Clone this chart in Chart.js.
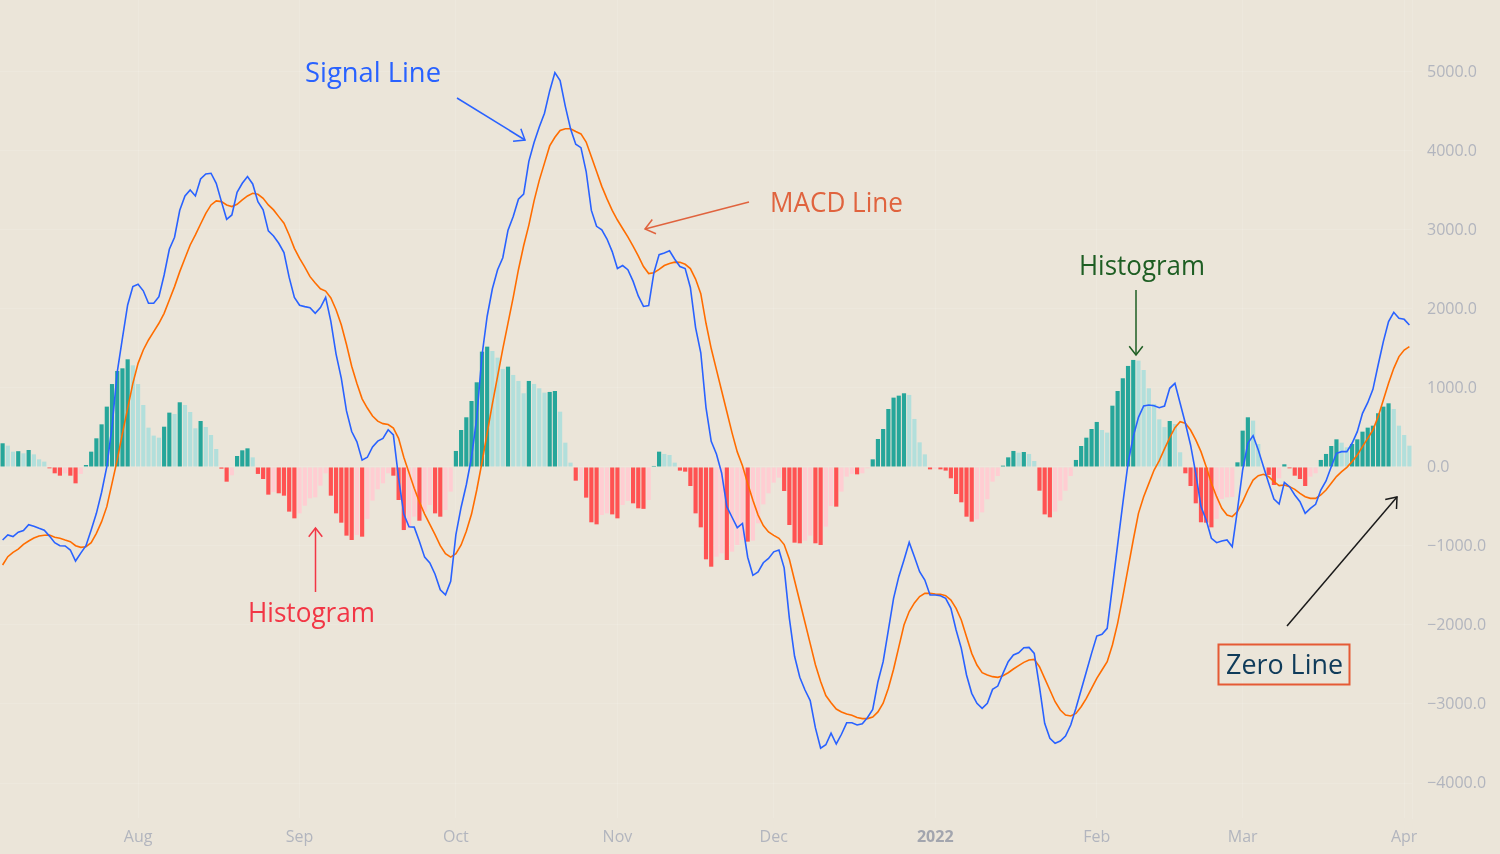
<!DOCTYPE html>
<html>
<head>
<meta charset="utf-8">
<script src="https://cdn.jsdelivr.net/npm/chart.js@4.4.1/dist/chart.umd.min.js"></script>
<style>
  html, body { margin: 0; padding: 0; background: #ebe5d9; overflow: hidden; }
  #wrap { position: relative; width: 1500px; height: 854px; }
  #c { position: absolute; left: 0; top: 0; }
  #ann { position: absolute; left: 0; top: 0; pointer-events: none; }
  #ann text { font-family: "Open Sans", sans-serif; font-size: 27px; }
</style>
</head>
<body>
<div id="wrap">
  <canvas id="c" width="1500" height="854"></canvas>
  <svg id="ann" width="1500" height="854" xmlns="http://www.w3.org/2000/svg">
    <text x="305" y="82" fill="#2962ff" textLength="136" lengthAdjust="spacingAndGlyphs">Signal Line</text>
    <text x="770" y="212" fill="#e0633e" textLength="133" lengthAdjust="spacingAndGlyphs">MACD Line</text>
    <text x="1079" y="275" fill="#1e5e23" textLength="126" lengthAdjust="spacingAndGlyphs">Histogram</text>
    <text x="248" y="622" fill="#f23645" textLength="127" lengthAdjust="spacingAndGlyphs">Histogram</text>
    <rect x="1218.5" y="644.5" width="131" height="40" fill="none" stroke="#e55a35" stroke-width="2"/>
    <text x="1226" y="674" fill="#0f3b5a" textLength="117" lengthAdjust="spacingAndGlyphs">Zero Line</text>
  </svg>
</div>
<script>
// ---- data (daily, starting 2021-07-06) ----
const startDate = '2021-07-06';

const histogram = [
  300, 270, 194, 200, 173, 215, 160, 97, 68, -17,
  -80, -110, -80, -110, -207, -88, 25, 194, 363, 540,
  764, 1050, 1215, 1249, 1363, 1287, 1050, 785, 498, 397,
  371, 510, 688, 671, 819, 785, 696, 490, 582, 506,
  405, 228, -21, -186, -105, 139, 211, 236, 122, -88,
  -152, -350, -316, -333, -363, -565, -650, -587, -490, -397,
  -384, -236, -80, -363, -587, -705, -869, -924, -861, -882,
  -658, -426, -283, -207, -80, -110, -418, -798, -776, -629,
  -680, -565, -481, -587, -629, -544, -312, 203, 468, 629,
  835, 1072, 1460, 1523, 1468, 1384, 1241, 1270, 1165, 1089,
  933, 1089, 1051, 996, 941, 950, 962, 700, 308, 55,
  -173, -165, -388, -700, -726, -608, -587, -600, -650, -481,
  -430, -460, -523, -530, -418, 13, 194, 165, 152, 55,
  -46, -59, -241, -587, -764, -1169, -1262, -1135, -1093, -1177,
  -1072, -987, -924, -945, -933, -713, -473, -333, -198, -135,
  -304, -734, -958, -966, -933, -869, -966, -987, -755, -494,
  -502, -312, -122, -88, -93, -80, -17, 97, 354, 481,
  734, 878, 903, 933, 912, 608, 312, 160, -30, -21,
  -30, -46, -143, -342, -447, -629, -692, -663, -574, -409,
  -186, -114, 17, 122, 203, 181, 190, 165, 76, -300,
  -600, -637, -565, -426, -300, -114, 89, 266, 371, 481,
  570, 468, 435, 776, 962, 1123, 1279, 1355, 1346, 1228,
  996, 798, 603, 505, 582, 544, 186, -80, -241, -460,
  -700, -705, -764, -658, -405, -384, -380, 59, 460, 629,
  587, 291, 3, -101, -228, -143, 34, -17, -110, -152,
  -241, -122, -80, 89, 165, 266, 350, 308, 249, 291,
  350, 447, 498, 523, 680, 764, 806, 734, 523, 405,
  270
];

const blueLine = [
  -924, -860, -880, -825, -805, -730, -750, -776, -800, -875,
  -958, -996, -1000, -1051, -1190, -1090, -996, -798, -587, -320,
  4, 510, 1200, 1630, 2051, 2283, 2313, 2230, 2072, 2072,
  2156, 2430, 2756, 2908, 3250, 3430, 3507, 3431, 3646, 3709,
  3718, 3591, 3359, 3135, 3190, 3477, 3591, 3676, 3583, 3359,
  3254, 2988, 2924, 2832, 2713, 2400, 2147, 2047, 2030, 2017,
  1944, 2017, 2147, 1843, 1429, 1124, 710, 449, 319, 87,
  123, 253, 327, 362, 471, 405, -139, -596, -757, -761,
  -944, -1141, -1214, -1358, -1554, -1619, -1446, -857, -509, -225,
  123, 623, 1408, 1908, 2256, 2497, 2649, 2997, 3171, 3389,
  3454, 3868, 4107, 4303, 4478, 4760, 4992, 4892, 4565, 4282,
  4085, 4042, 3740, 3248, 3046, 3003, 2885, 2726, 2512, 2550,
  2497, 2352, 2165, 2032, 2043, 2459, 2688, 2709, 2736, 2629,
  2538, 2512, 2272, 1765, 1446, 752, 325, 165, -76, -503,
  -636, -768, -715, -1142, -1371, -1329, -1212, -1158, -1074, -1052,
  -1276, -1915, -2396, -2662, -2823, -2956, -3303, -3559, -3516, -3368,
  -3506, -3383, -3238, -3238, -3266, -3250, -3170, -3068, -2718, -2464,
  -2064, -1663, -1388, -1177, -954, -1135, -1325, -1431, -1620, -1620,
  -1629, -1663, -1789, -2064, -2296, -2633, -2865, -2992, -3055, -2992,
  -2815, -2773, -2612, -2464, -2380, -2351, -2287, -2283, -2359, -2781,
  -3245, -3435, -3498, -3469, -3406, -3266, -3055, -2823, -2591, -2359,
  -2140, -2118, -2042, -1515, -987, -460, 46, 384, 629, 772,
  785, 776, 751, 772, 996, 1059, 806, 553, 279, -80,
  -502, -671, -903, -958, -937, -924, -1009, -544, -38, 300,
  397, 215, 4, -207, -405, -468, -194, -249, -354, -439,
  -587, -523, -473, -291, -177, 4, 173, 194, 194, 300,
  447, 679, 814, 983, 1291, 1587, 1840, 1958, 1882, 1869,
  1798
];

const orangeLine = [
  -1241, -1135, -1080, -1040, -980, -937, -900, -874, -865, -861,
  -890, -903, -925, -945, -996, -1017, -1009, -958, -840, -692,
  -502, -207, 89, 426, 743, 1059, 1312, 1481, 1608, 1713,
  1819, 1945, 2114, 2283, 2473, 2642, 2810, 2937, 3076, 3211,
  3317, 3368, 3359, 3317, 3296, 3325, 3380, 3431, 3465, 3452,
  3401, 3317, 3254, 3169, 3085, 2937, 2768, 2640, 2530, 2409,
  2330, 2256, 2226, 2140, 1990, 1800, 1550, 1276, 1058, 863,
  746, 646, 580, 549, 537, 492, 362, 123, -73, -270,
  -443, -596, -727, -857, -996, -1096, -1141, -1096, -987, -814,
  -596, -291, 57, 428, 798, 1146, 1494, 1820, 2147, 2497,
  2800, 3062, 3368, 3628, 3846, 4064, 4173, 4260, 4282, 4282,
  4246, 4216, 4113, 3926, 3740, 3552, 3393, 3248, 3126, 3019,
  2912, 2795, 2673, 2538, 2448, 2459, 2502, 2550, 2576, 2593,
  2590, 2566, 2512, 2379, 2193, 1819, 1499, 1232, 965, 699,
  432, 191, 15, -209, -422, -609, -742, -822, -865, -903,
  -982, -1169, -1436, -1703, -1969, -2236, -2503, -2716, -2893, -2983,
  -3064, -3101, -3127, -3143, -3170, -3185, -3185, -3165, -3100, -2990,
  -2800, -2560, -2280, -2000, -1830, -1720, -1640, -1600, -1599, -1608,
  -1612, -1629, -1684, -1789, -1937, -2148, -2359, -2507, -2604, -2633,
  -2654, -2663, -2642, -2604, -2557, -2515, -2473, -2443, -2435, -2528,
  -2675, -2823, -2971, -3076, -3140, -3152, -3119, -3034, -2929, -2802,
  -2675, -2570, -2464, -2253, -1979, -1642, -1283, -924, -587, -376,
  -207, -38, 80, 230, 370, 498, 574, 553, 468, 342,
  194, 4, -207, -376, -523, -608, -629, -565, -439, -291,
  -165, -110, -93, -122, -186, -236, -228, -249, -283, -333,
  -376, -397, -397, -354, -291, -207, -122, -59, -4, 68,
  152, 257, 363, 468, 637, 848, 1059, 1249, 1397, 1481,
  1523
];

const yTickValues = [-4000, -3000, -2000, -1000, 0, 1000, 2000, 3000, 4000, 5000];
const monthNames = ['Jan','Feb','Mar','Apr','May','Jun','Jul','Aug','Sep','Oct','Nov','Dec'];

// ---- categories: one date per bar ----
const categories = [];
{
  const d0 = new Date(startDate + 'T00:00:00Z');
  for (let i = 0; i < histogram.length; i++) {
    const d = new Date(d0.getTime() + i * 86400000);
    categories.push(d.toISOString().slice(0, 10));
  }
}
function tickText(dateStr) {
  const d = new Date(dateStr + 'T00:00:00Z');
  if (d.getUTCDate() !== 1) return null;
  if (d.getUTCMonth() === 0) return String(d.getUTCFullYear());
  return monthNames[d.getUTCMonth()];
}

// TradingView style histogram colouring
const C_UP_STRONG = '#26a69a', C_UP_WEAK = '#b2dfdb', C_DN_STRONG = '#ff5252', C_DN_WEAK = '#ffcdd2';
const barColors = histogram.map((v, i) => {
  const prev = i > 0 ? histogram[i - 1] : -Infinity;
  if (v >= 0) return prev < v ? C_UP_STRONG : C_UP_WEAK;
  return prev < v ? C_DN_WEAK : C_DN_STRONG;
});

const gridColor = 'rgba(255,255,255,0.12)';
const tickColor = '#b2b5be';
const fontFamily = '"Open Sans", sans-serif';

new Chart(document.getElementById('c'), {
  type: 'bar',
  data: {
    labels: categories,
    datasets: [
      { type: 'line', data: blueLine, borderColor: '#2962ff', borderWidth: 1.6, pointRadius: 0, tension: 0, order: 1 },
      { type: 'line', data: orangeLine, borderColor: '#ff6d00', borderWidth: 1.6, pointRadius: 0, tension: 0, order: 2 },
      { type: 'bar', data: histogram, backgroundColor: barColors, borderWidth: 0, barPercentage: 0.8, categoryPercentage: 1.0, order: 3 }
    ]
  },
  options: {
    responsive: false,
    animation: false,
    devicePixelRatio: 1,
    layout: { padding: 0 },
    plugins: { legend: { display: false }, tooltip: { enabled: false } },
    scales: {
      x: {
        type: 'category',
        offset: true,
        grid: { offset: false, color: gridColor, drawTicks: false },
        border: { display: false },
        ticks: {
          autoSkip: false, maxRotation: 0, padding: 10, color: (ctx) => (ctx.tick && ctx.tick.label === '2022') ? '#a2a5ae' : tickColor,
          font: (ctx) => ({ family: fontFamily, size: 16, weight: (ctx.tick && ctx.tick.label === '2022') ? 'bold' : 'normal' }),
          callback: function (value) { return tickText(this.getLabelForValue(value)); }
        },
        afterBuildTicks: (s) => { s.ticks = s.ticks.filter(t => tickText(categories[t.value]) !== null); },
        afterFit: (s) => { s.height = 36; s.paddingLeft = 0; s.paddingRight = 0; }
      },
      y: {
        type: 'linear',
        position: 'right',
        min: -4443,
        max: 5911,
        grid: { color: gridColor, drawTicks: false },
        border: { display: true, color: gridColor },
        ticks: {
          padding: 15, color: tickColor, font: { family: fontFamily, size: 16 },
          callback: (v) => (v < 0 ? '\u2212' : '') + Math.abs(v).toFixed(1)
        },
        afterBuildTicks: (s) => { s.ticks = yTickValues.map(v => ({ value: v })); },
        afterFit: (s) => { s.width = 88; s.paddingTop = 0; s.paddingBottom = 0; }
      }
    }
  }
});

// ---- annotation arrows (SVG overlay) ----
const svg = document.getElementById('ann');
function arrow(x1, y1, x2, y2, color, head, width) {
  const ns = 'http://www.w3.org/2000/svg';
  const ln = document.createElementNS(ns, 'line');
  ln.setAttribute('x1', x1); ln.setAttribute('y1', y1);
  ln.setAttribute('x2', x2); ln.setAttribute('y2', y2);
  ln.setAttribute('stroke', color); ln.setAttribute('stroke-width', width);
  svg.appendChild(ln);
  const ang = Math.atan2(y1 - y2, x1 - x2);
  const a = 38 * Math.PI / 180;
  const p1 = [x2 + head * Math.cos(ang + a), y2 + head * Math.sin(ang + a)];
  const p2 = [x2 + head * Math.cos(ang - a), y2 + head * Math.sin(ang - a)];
  const pl = document.createElementNS(ns, 'polyline');
  pl.setAttribute('points', `${p1[0]},${p1[1]} ${x2},${y2} ${p2[0]},${p2[1]}`);
  pl.setAttribute('fill', 'none'); pl.setAttribute('stroke', color); pl.setAttribute('stroke-width', width);
  svg.appendChild(pl);
}
arrow(457, 98, 525, 140, '#2962ff', 12, 1.5);
arrow(749, 202, 645, 229, '#e0633e', 12, 1.5);
arrow(1136, 290, 1136, 355, '#1e5e23', 11, 1.5);
arrow(315.5, 592, 315.5, 528, '#f23645', 11, 1.5);
arrow(1287, 626, 1397, 497, '#1a1a1a', 12, 1.5);
</script>
</body>
</html>
